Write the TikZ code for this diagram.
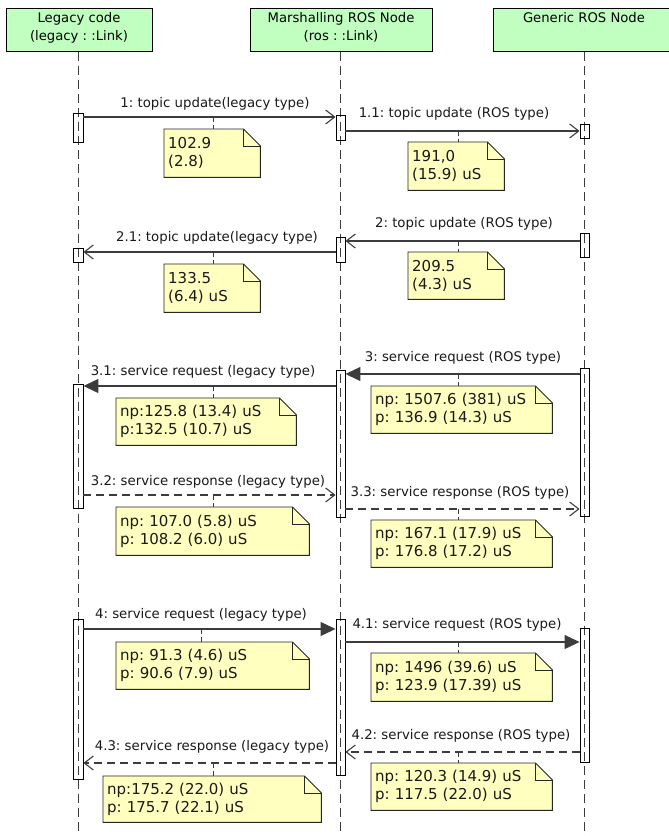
\documentclass[tikz,border=0pt]{standalone}
\usepackage{fontspec}
\setmainfont{DejaVu Sans}
\usetikzlibrary{arrows.meta}
\frenchspacing
\definecolor{hdrgreen}{RGB}{192,255,192}
\definecolor{noteyellow}{RGB}{255,255,192}
\definecolor{ln}{RGB}{60,60,60}
\pgfdeclarelayer{background}
\pgfsetlayers{background,main}
\newcommand\notedeco[1]{%
  \begin{pgfonlayer}{background}
    \draw[noteline] (#1.north west) -- ([xshift=-17pt]#1.north east) -- ([yshift=-17pt]#1.north east) -- (#1.south east) -- (#1.south west) -- cycle;
    \draw[noteline, fill=none] ([xshift=-17pt]#1.north east) |- ([yshift=-17pt]#1.north east);
  \end{pgfonlayer}}
\begin{document}
\begin{tikzpicture}[x=1pt,y=-1pt,
  font=\fontsize{13.2}{18}\selectfont,
  hdr/.style={draw=black, line width=0.9pt, fill=hdrgreen, anchor=north, minimum height=43pt, align=center, inner sep=0pt, text depth=7pt},
  life/.style={draw=ln, line width=1pt, dash pattern=on 9pt off 5pt},
  act/.style={draw=black, line width=0.9pt, minimum width=9pt, inner sep=0pt},
  msg/.style={draw=ln, line width=1.1pt},
  openhead/.style={-{Straight Barb[length=9pt,width=14pt]}},
  fullhead/.style={-{Triangle[length=15pt,width=14pt]}},
  resp/.style={dash pattern=on 8pt off 5pt},
  lbl/.style={anchor=base, inner sep=0pt, text=black!90, font=\fontsize{13.3}{16}\selectfont},
  note/.style={anchor=north west, inner xsep=4pt, inner ysep=0pt, align=left, text=black!90, font=\fontsize{15}{18.3}\selectfont},
  noteline/.style={draw=black!85, line width=0.9pt, fill=noteyellow},
  stub/.style={draw=ln, line width=1pt, dash pattern=on 5pt off 3pt}]
\clip (0,0) rectangle (669,836);

% headers
\node[hdr, minimum width=146pt] (hL) at (79,8) {Legacy code\\(legacy : :Link)};
\node[hdr, minimum width=182pt] (hM) at (341,8) {Marshalling ROS Node\\(ros : :Link)};
\node[hdr, minimum width=182pt] (hG) at (584,8) {Generic ROS Node\\\phantom{X}};

% lifelines
\coordinate (eL) at (78,836);
\coordinate (eM) at (340.5,836);
\coordinate (eG) at (584.5,836);
\draw[life] (hL.south -| eL) -- (eL);
\draw[life] (hM.south -| eM) -- (eM);
\draw[life] (hG.south -| eG) -- (eG);

% activations
\node[act, minimum width=10pt, minimum height=29pt] (A1L) at (78,127.5) {};
\node[act, minimum height=25pt] (A1M) at (340.5,127.5) {};
\node[act, minimum height=14pt] (A1G) at (584.5,131) {};
\node[act, minimum height=24pt] (A2G) at (584.5,245) {};
\node[act, minimum height=25pt] (A2M) at (340.5,249.5) {};
\node[act, minimum width=10pt, minimum height=14pt] (A2L) at (78,255) {};
\node[act, minimum height=148pt] (A3G) at (584.5,442) {};
\node[act, minimum height=147pt] (A3M) at (340.5,443.5) {};
\node[act, minimum width=10pt, minimum height=124pt] (A3L) at (78,446) {};
\node[act, minimum width=10pt, minimum height=160pt] (A4L) at (78,699) {};
\node[act, minimum height=156pt] (A4M) at (340.5,697) {};
\node[act, minimum height=134pt] (A4G) at (584.5,695) {};

% messages
\draw[msg, openhead] (A1L.east |- 0,117) -- (A1M.west |- 0,117)
  node[lbl] at (215,107.5) {1: topic update(legacy type)};
\draw[msg, openhead] (A1M.east |- 0,131) -- (A1G.west |- 0,131)
  node[lbl] at (454,117.5) {1.1: topic update (ROS type)};
\draw[msg, openhead] (A2G.west |- 0,241) -- (A2M.east |- 0,241)
  node[lbl] at (464,227.5) {2: topic update (ROS type)};
\draw[msg, openhead] (A2M.west |- 0,252) -- (A2L.east |- 0,252)
  node[lbl] at (217,241.5) {2.1: topic update(legacy type)};
\draw[msg, fullhead] (A3G.west |- 0,374) -- (A3M.east |- 0,374)
  node[lbl] at (463,361.5) {3: service request (ROS type)};
\draw[msg, fullhead] (A3M.west |- 0,386) -- (A3L.east |- 0,386)
  node[lbl] at (203,375.5) {3.1: service request (legacy type)};
\draw[msg, resp, openhead] (A3L.east |- 0,495) -- (A3M.west |- 0,495)
  node[lbl] at (208,485.5) {3.2: service response (legacy type)};
\draw[msg, resp, openhead] (A3M.east |- 0,509) -- (A3G.west |- 0,509)
  node[lbl] at (460,496.5) {3.3: service response (ROS type)};
\draw[msg, fullhead] (A4L.east |- 0,629) -- (A4M.west |- 0,629)
  node[lbl] at (201,618.5) {4: service request (legacy type)};
\draw[msg, fullhead] (A4M.east |- 0,642) -- (A4G.west |- 0,642)
  node[lbl] at (457,628.5) {4.1: service request (ROS type)};
\draw[msg, resp, openhead] (A4G.west |- 0,752) -- (A4M.east |- 0,752)
  node[lbl] at (461,739.5) {4.2: service response (ROS type)};
\draw[msg, resp, openhead] (A4M.west |- 0,763) -- (A4L.east |- 0,763)
  node[lbl] at (212,750.5) {4.3: service response (legacy type)};

% notes
\node[note, minimum width=96pt, text width=88pt, minimum height=48pt] (N1) at (164,129) {102.9\\(2.8)};
\node[note, minimum width=96pt, text width=88pt, minimum height=48pt] (N11) at (408,142) {191,0\\(15.9) uS};
\node[note, minimum width=96pt, text width=88pt, minimum height=47pt] (N2) at (408,252) {209.5\\(4.3) uS};
\node[note, minimum width=96pt, text width=88pt, minimum height=48pt] (N21) at (164,264) {133.5\\(6.4) uS};
\node[note, minimum width=181pt, text width=173pt, minimum height=47pt] (N3) at (371,386) {np: 1507.6 (381) uS\\p: 136.9 (14.3) uS};
\node[note, minimum width=180pt, text width=172pt, minimum height=47pt] (N31) at (116,398) {np:125.8 (13.4) uS\\p:132.5 (10.7) uS};
\node[note, minimum width=193pt, text width=185pt, minimum height=48pt] (N32) at (116,507) {np: 107.0 (5.8) uS\\p: 108.2 (6.0) uS};
\node[note, minimum width=181pt, text width=173pt, minimum height=47pt] (N33) at (371,520) {np: 167.1 (17.9) uS\\p: 176.8 (17.2) uS};
\node[note, minimum width=193pt, text width=185pt, minimum height=47pt] (N4) at (116,642) {np: 91.3 (4.6) uS\\p: 90.6 (7.9) uS};
\node[note, minimum width=181pt, text width=173pt, minimum height=48pt] (N41) at (371,653) {np: 1496 (39.6) uS\\p: 123.9 (17.39) uS};
\node[note, minimum width=181pt, text width=173pt, minimum height=47pt] (N42) at (371,763) {np: 120.3 (14.9) uS\\p: 117.5 (22.0) uS};
\node[note, minimum width=218pt, text width=210pt, minimum height=46pt] (N43) at (103,776) {np:175.2 (22.0) uS\\p: 175.7 (22.1) uS};
\foreach \n in {N1,N11,N2,N21,N3,N31,N32,N33,N4,N41,N42,N43} {\notedeco{\n}}

% stubs from messages to notes
\coordinate (s1) at (213,117);
\coordinate (s11) at (458,131);
\coordinate (s2) at (458,241);
\coordinate (s21) at (213,252);
\coordinate (s3) at (458,374);
\coordinate (s31) at (213,386);
\coordinate (s32) at (213,495);
\coordinate (s33) at (458,509);
\coordinate (s4) at (201,629);
\coordinate (s41) at (458,642);
\coordinate (s42) at (458,752);
\coordinate (s43) at (213,763);
\draw[stub] (s1) -- (N1.north -| s1);
\draw[stub] (s11) -- (N11.north -| s11);
\draw[stub] (s2) -- (N2.north -| s2);
\draw[stub] (s21) -- (N21.north -| s21);
\draw[stub] (s3) -- (N3.north -| s3);
\draw[stub] (s31) -- (N31.north -| s31);
\draw[stub] (s32) -- (N32.north -| s32);
\draw[stub] (s33) -- (N33.north -| s33);
\draw[stub] (s4) -- (N4.north -| s4);
\draw[stub] (s41) -- (N41.north -| s41);
\draw[stub] (s42) -- (N42.north -| s42);
\draw[stub] (s43) -- (N43.north -| s43);
\end{tikzpicture}
\end{document}
